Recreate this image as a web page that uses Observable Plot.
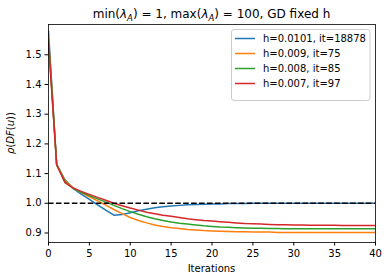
<!DOCTYPE html>
<html><head><meta charset="utf-8">
<script src="https://cdn.jsdelivr.net/npm/d3@7"></script>
<script src="https://cdn.jsdelivr.net/npm/@observablehq/plot@0.6"></script>
<style>
body{margin:0;background:#fff}
svg{font-family:"DejaVu Sans",sans-serif}
</style>
</head><body><div id="chart"></div>
<script>
const iterations = [0,1,2,3,4,5,6,7,8,9,10,11,12,13,14,15,16,17,18,19,20,21,22,23,24,25,26,27,28,29,30,31,32,33,34,35,36,37,38,39,40];
const seriesNames = ["h=0.0101, it=18878","h=0.009, it=75","h=0.008, it=85","h=0.007, it=97"];
const seriesColors = ["#1f77b4","#ff7f0e","#2ca02c","#d62728"];
const rhoBlue = [1.58,1.13,1.08,1.05,1.031,1.013,0.995,0.977,0.960,0.962,0.968,0.975,0.980,0.985,0.988,0.991,0.993,0.995,0.996,0.997,0.998,0.998,0.999,0.999,0.999,1.0,1.0,1.0,1.0,1.0,1.0,1.0,1.0,1.0,1.0,1.0,1.0,1.0,1.0,1.0,1.0];
const rhoOrange = [1.56,1.13,1.077,1.052,1.036,1.022,1.008,0.994,0.979,0.965,0.952,0.942,0.934,0.927,0.922,0.918,0.915,0.912,0.910,0.908,0.907,0.906,0.905,0.904,0.904,0.903,0.903,0.903,0.902,0.902,0.902,0.902,0.902,0.902,0.902,0.902,0.902,0.902,0.902,0.902,0.902];
const rhoGreen = [1.55,1.13,1.074,1.050,1.037,1.026,1.015,1.004,0.993,0.982,0.972,0.963,0.955,0.948,0.942,0.937,0.933,0.930,0.927,0.924,0.922,0.920,0.919,0.918,0.917,0.916,0.916,0.915,0.915,0.914,0.914,0.914,0.914,0.914,0.914,0.914,0.914,0.914,0.914,0.914,0.914];
const rhoRed = [1.54,1.13,1.07,1.052,1.040,1.030,1.020,1.010,1.000,0.992,0.984,0.977,0.970,0.965,0.960,0.956,0.952,0.948,0.945,0.942,0.940,0.938,0.936,0.934,0.932,0.931,0.930,0.929,0.928,0.928,0.927,0.927,0.926,0.926,0.926,0.926,0.925,0.925,0.925,0.925,0.925];
const xTicks = [0,5,10,15,20,25,30,35,40];
const yTicks = [0.9,1.0,1.1,1.2,1.3,1.4,1.5];
const threshold = 1.0;

const allSeries = [rhoBlue, rhoOrange, rhoGreen, rhoRed];
const rows = [];
allSeries.forEach((vals, s) => vals.forEach((v, i) => rows.push({it: iterations[i], rho: v, name: seriesNames[s]})));

const W = 388, H = 280, mL = 48, mR = 13, mT = 24, mB = 38;
const plot = Plot.plot({
  width: W, height: H,
  marginLeft: mL, marginRight: mR, marginTop: mT, marginBottom: mB,
  style: {fontFamily: '"DejaVu Sans", sans-serif', fontSize: "10px", color: "#000", background: "#fff", overflow: "visible"},
  x: {domain: [0, 40], ticks: xTicks, tickSize: 3.5, tickPadding: 3.5, tickFormat: d => String(d), label: null},
  y: {domain: [0.868, 1.602], ticks: yTicks, tickSize: 3.5, tickPadding: 3.5, tickFormat: d => d.toFixed(1), label: null},
  color: {domain: seriesNames, range: seriesColors},
  marks: [
    Plot.line(rows, {x: "it", y: "rho", stroke: "name", z: "name", strokeWidth: 1.5, clip: true}),
    Plot.ruleY([threshold], {stroke: "#000", strokeWidth: 1.5, strokeDasharray: "5.55,2.4", clip: true}),
    Plot.frame({stroke: "#000", strokeWidth: 0.8})
  ]
});
document.getElementById("chart").appendChild(plot);

const svg = d3.select(plot);
const cx = mL + (W - mL - mR) / 2;

// title
const t = svg.append("text").attr("x", cx).attr("y", 18).attr("text-anchor", "middle")
  .attr("font-size", 12).attr("fill", "#000");
function lam(sel){
  sel.append("tspan").attr("font-style", "italic").text("λ");
  sel.append("tspan").attr("font-style", "italic").attr("font-size", 8.5).attr("dy", 2.5).text("A");
}
t.append("tspan").text("min(");
lam(t);
t.append("tspan").attr("dy", -2.5).text(") = 1, max(");
lam(t);
t.append("tspan").attr("dy", -2.5).text(") = 100, GD fixed h");

// x label
svg.append("text").attr("x", cx).attr("y", 272).attr("text-anchor", "middle")
  .attr("font-size", 10).attr("fill", "#000").text("Iterations");

// y label
const yl = svg.append("text").attr("transform", `translate(14,${(mT + H - mB) / 2}) rotate(-90)`)
  .attr("text-anchor", "middle").attr("font-size", 10).attr("fill", "#000");
yl.append("tspan").attr("font-style", "italic").text("ρ");
yl.append("tspan").text("(");
yl.append("tspan").attr("font-style", "italic").text("DF");
yl.append("tspan").text("(");
yl.append("tspan").attr("font-style", "italic").text("u");
yl.append("tspan").text("))");

// legend
const lg = svg.append("g").attr("text-anchor", "start");
lg.append("rect").attr("x", 231.5).attr("y", 29.5).attr("width", 138.5).attr("height", 71)
  .attr("rx", 2.5).attr("fill", "#fff").attr("fill-opacity", 0.8).attr("stroke", "#cccccc").attr("stroke-width", 1);
seriesNames.forEach((n, i) => {
  const y = 38.5 + 15 * i;
  lg.append("line").attr("x1", 235).attr("x2", 255).attr("y1", y).attr("y2", y)
    .attr("stroke", seriesColors[i]).attr("stroke-width", 1.5);
  lg.append("text").attr("x", 263).attr("y", y).attr("dy", "0.35em").attr("font-size", 10)
    .attr("text-anchor", "start").attr("fill", "#000").text(n);
});
</script>
</body></html>
